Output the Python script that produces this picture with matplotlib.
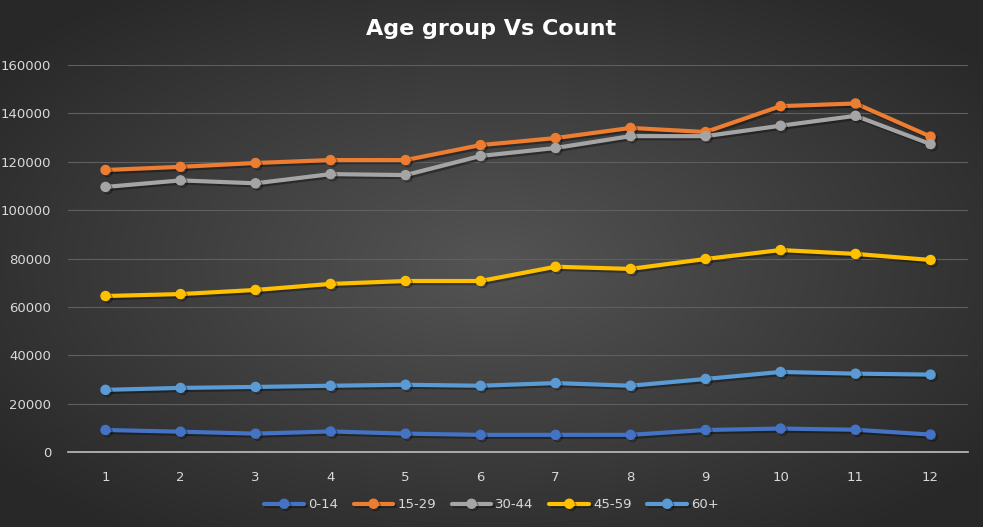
import numpy as np
import matplotlib.pyplot as plt
import matplotlib.patheffects as pe

months = list(range(1, 13))
age_groups = ['0-14', '15-29', '30-44', '45-59', '60+']
colors = ['#4472C4', '#ED7D31', '#A5A5A5', '#FFC000', '#5B9BD5']

age_0_14 = [9100, 8400, 7600, 8500, 7600, 7100, 7100, 7100, 9100, 9700, 9200, 7200]
age_15_29 = [116600, 117900, 119500, 120700, 120700, 126900, 129800, 134000, 132300, 143000, 144100, 130400]
age_30_44 = [109600, 112300, 111100, 114900, 114500, 122400, 125700, 130600, 130600, 134900, 139000, 127300]
age_45_59 = [64500, 65300, 67000, 69500, 70700, 70700, 76600, 75700, 79800, 83500, 81900, 79400]
age_60p = [25700, 26500, 26900, 27400, 27800, 27400, 28500, 27400, 30200, 33100, 32400, 32000]

series = [age_0_14, age_15_29, age_30_44, age_45_59, age_60p]

fig = plt.figure(figsize=(9.83, 5.27), dpi=100)

# radial gradient background
bg = fig.add_axes([0, 0, 1, 1], zorder=-10)
yy, xx = np.mgrid[-1:1:300j, -1:1:560j]
r = np.sqrt((xx * 0.9) ** 2 + (yy * 0.9) ** 2)
shade = np.clip(0.33 - 0.15 * r, 0.16, 0.33)
bg.imshow(np.dstack([shade, shade, shade]), aspect='auto', extent=[0, 1, 0, 1])
bg.axis('off')

ax = fig.add_axes([0.0692, 0.1423, 0.9156, 0.7343])
ax.set_facecolor('none')

for vals, name, c in zip(series, age_groups, colors):
    ax.plot(months, vals, color=c, lw=3, marker='o', ms=6.5, label=name,
            solid_capstyle='round', zorder=3,
            path_effects=[pe.SimpleLineShadow(offset=(1.5, -1.5), alpha=0.35, shadow_color='black'), pe.Normal()])

ax.set_xlim(0.5, 12.5)
ax.set_ylim(0, 160000)
ax.set_xticks(months)
ax.set_yticks(range(0, 160001, 20000))
ax.grid(axis='y', color='#5f5f5f', lw=0.8)
ax.set_axisbelow(True)
for s in ['top', 'right', 'left']:
    ax.spines[s].set_visible(False)
ax.spines['bottom'].set_color('#bfbfbf')
ax.spines['bottom'].set_linewidth(1.2)
ax.tick_params(length=0, colors='#d9d9d9', labelsize=9.5)
ax.tick_params(axis='x', pad=14)
ax.tick_params(axis='y', pad=12)

fig.text(0.5, 0.945, 'Age group Vs Count', ha='center', va='center',
         color='white', fontsize=16, fontweight='bold')

leg = fig.legend(loc='center', bbox_to_anchor=(0.5, 0.042), ncol=5, frameon=False,
                 fontsize=9.5, handlelength=3, columnspacing=1.2, handletextpad=0.3)
for t in leg.get_texts():
    t.set_color('#d9d9d9')

fig.savefig('out.png', dpi=100)
